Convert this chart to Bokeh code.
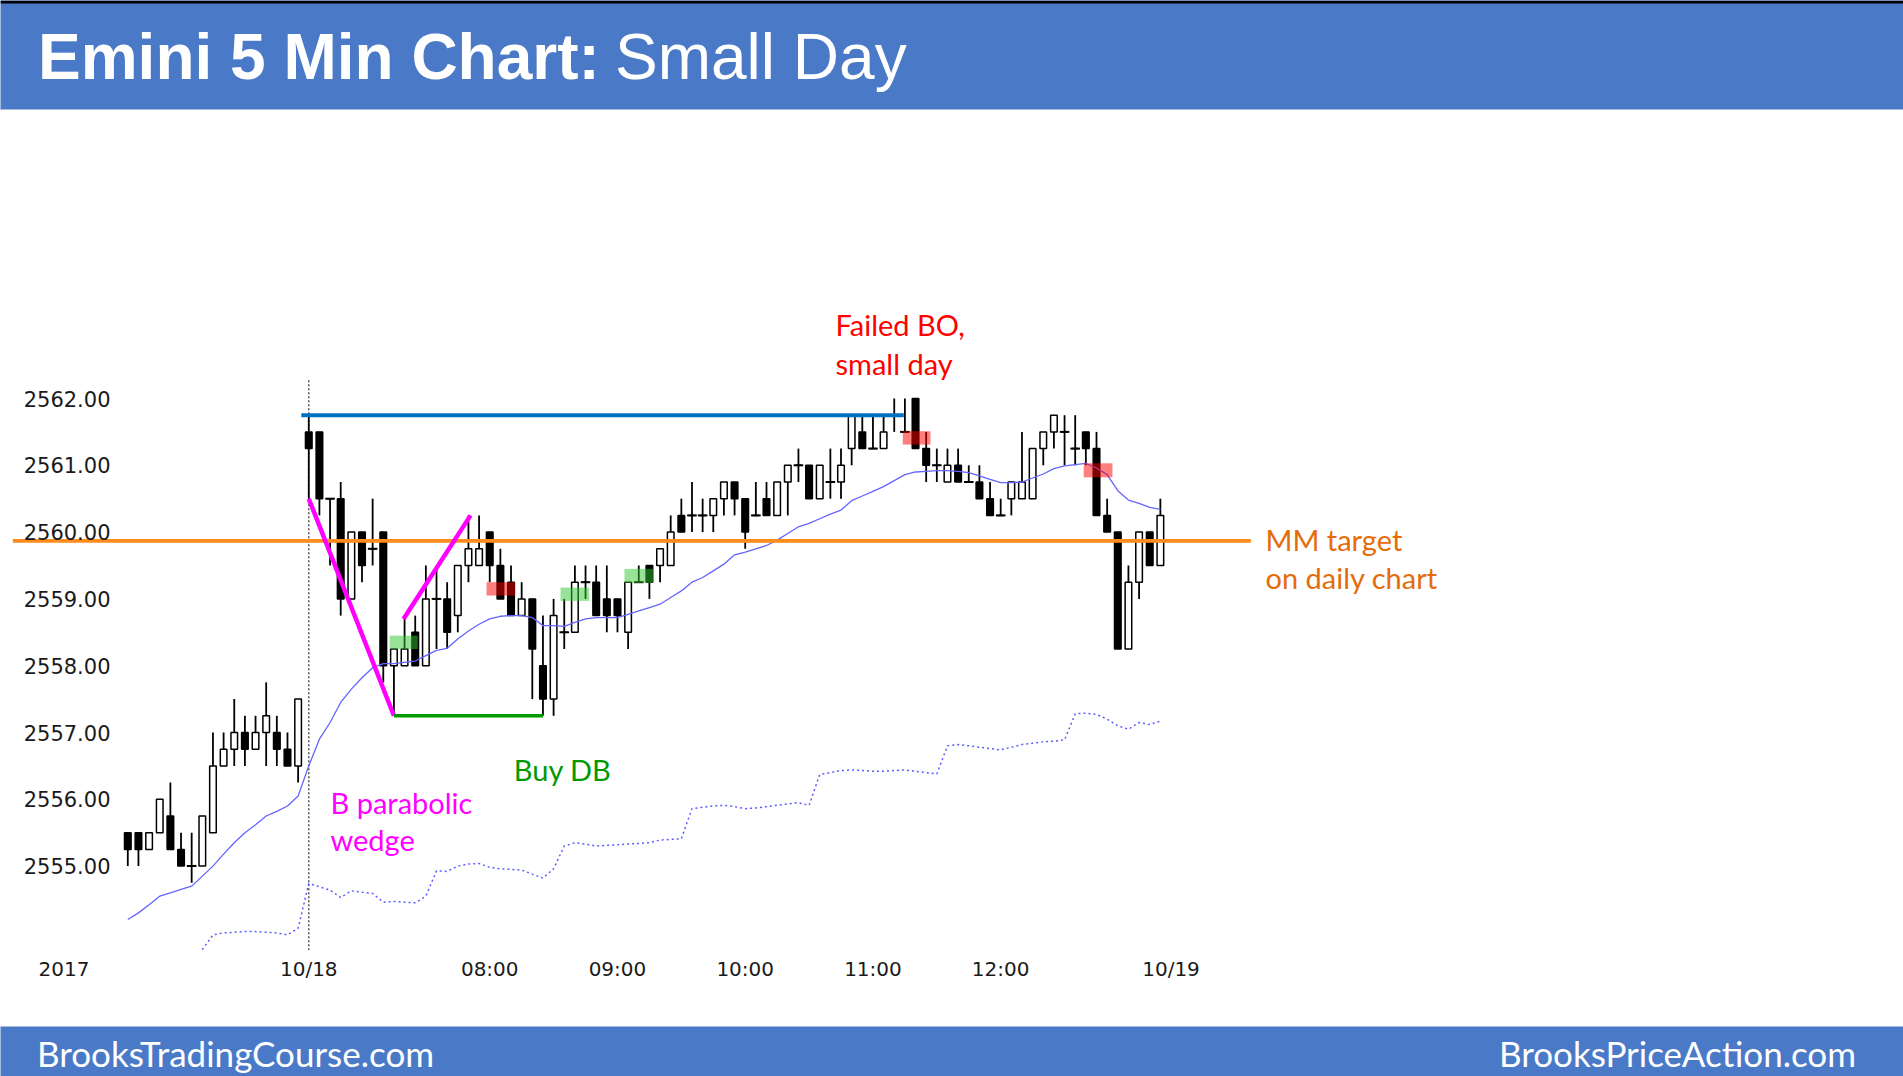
from bokeh.plotting import figure
from bokeh.models import Range1d, FixedTicker, LinearAxis, ColumnDataSource
from bokeh.layouts import column
from bokeh.embed import file_html
from bokeh.resources import INLINE
from bokeh.core.properties import value

# ---------------- data ----------------
# bar index 0..16 = end of 10/17 session, 17..97 = 10/18 session (5-min bars)
opens = [2555.5, 2555.5, 2555.25, 2555.5, 2555.75, 2555.25, 2555.0, 2555.0, 2555.5, 2556.5,
         2556.75, 2557.0, 2556.75, 2557.0, 2557.0, 2556.75, 2556.5,
         2561.5, 2561.5, 2560.5, 2560.5, 2559.0, 2560.0, 2559.75, 2560.0, 2558.0, 2558.0,
         2558.5, 2558.0, 2559.0, 2559.0, 2558.75, 2559.5, 2559.5, 2560.0, 2559.5, 2559.25,
         2558.75, 2559.0, 2558.0, 2557.5, 2558.5, 2558.5, 2559.25, 2559.25, 2559.0, 2559.0,
         2558.5, 2559.25, 2559.5, 2559.5, 2559.5, 2560.25, 2560.25, 2560.25, 2560.25, 2560.5,
         2560.75, 2560.5, 2560.25, 2560.5, 2560.25, 2560.75, 2561.0, 2561.0, 2560.5, 2560.75,
         2560.75, 2561.25, 2561.5, 2561.25, 2561.25, 2561.75, 2561.5, 2562.0, 2561.25, 2561.0,
         2560.75, 2561.0, 2560.75, 2560.75, 2560.5, 2560.25, 2560.5, 2560.5, 2560.5, 2561.25,
         2561.5, 2561.5, 2561.25, 2561.5, 2561.25, 2560.25, 2560.0, 2558.25, 2559.25, 2560.0, 2559.5]
highs = [2555.5, 2555.5, 2555.5, 2556.0, 2556.25, 2555.5, 2555.5, 2555.75, 2557.0, 2557.0,
         2557.5, 2557.25, 2557.25, 2557.75, 2557.25, 2557.0, 2557.5,
         2561.75, 2561.5, 2560.5, 2560.75, 2560.0, 2560.0, 2560.5, 2560.0, 2558.25, 2558.75,
         2558.75, 2559.5, 2559.5, 2559.25, 2559.5, 2560.25, 2560.25, 2560.0, 2559.75, 2559.5,
         2559.25, 2559.0, 2558.75, 2559.0, 2559.0, 2559.5, 2559.5, 2559.5, 2559.5, 2559.0,
         2559.25, 2559.5, 2559.5, 2559.75, 2560.25, 2560.5, 2560.75, 2560.5, 2560.5, 2560.75,
         2560.75, 2560.5, 2560.75, 2560.75, 2560.75, 2561.0, 2561.25, 2561.0, 2561.0, 2561.25,
         2561.25, 2561.75, 2561.75, 2561.75, 2561.75, 2562.0, 2562.0, 2562.0, 2561.5, 2561.25,
         2561.25, 2561.25, 2561.0, 2561.0, 2560.75, 2560.5, 2560.75, 2561.5, 2561.25, 2561.5,
         2561.75, 2561.75, 2561.75, 2561.5, 2561.5, 2560.5, 2560.0, 2559.5, 2560.0, 2560.0, 2560.5]
lows = [2555.0, 2555.0, 2555.25, 2555.5, 2555.25, 2555.0, 2554.75, 2555.0, 2555.5, 2556.5,
        2556.5, 2556.5, 2556.75, 2556.5, 2556.5, 2556.5, 2556.25,
        2560.5, 2560.25, 2559.5, 2558.75, 2559.0, 2559.25, 2559.5, 2557.75, 2557.25, 2558.0,
        2558.0, 2558.0, 2558.25, 2558.25, 2558.5, 2559.25, 2559.5, 2559.25, 2559.0, 2558.75,
        2558.75, 2557.5, 2557.25, 2557.25, 2558.25, 2558.5, 2559.0, 2558.75, 2558.5, 2558.5,
        2558.25, 2559.25, 2559.0, 2559.25, 2559.5, 2560.0, 2560.0, 2560.0, 2560.0, 2560.25,
        2560.25, 2559.75, 2560.25, 2560.25, 2560.25, 2560.25, 2560.75, 2560.5, 2560.5, 2560.5,
        2560.5, 2561.0, 2561.25, 2561.25, 2561.25, 2561.5, 2561.5, 2561.25, 2560.75, 2560.75,
        2560.75, 2560.75, 2560.75, 2560.5, 2560.25, 2560.25, 2560.25, 2560.5, 2560.5, 2561.0,
        2561.25, 2561.0, 2561.0, 2561.0, 2560.25, 2560.0, 2558.25, 2558.25, 2559.0, 2559.5, 2559.5]
closes = [2555.25, 2555.25, 2555.5, 2556.0, 2555.25, 2555.0, 2555.0, 2555.75, 2556.5, 2556.75,
          2557.0, 2556.75, 2557.0, 2557.25, 2556.75, 2556.5, 2557.5,
          2561.25, 2560.5, 2560.5, 2559.0, 2560.0, 2559.5, 2559.75, 2558.0, 2558.25, 2558.25,
          2558.0, 2559.0, 2559.0, 2558.5, 2559.5, 2559.75, 2559.75, 2559.5, 2559.0, 2558.75,
          2559.0, 2558.25, 2557.5, 2558.75, 2558.5, 2559.25, 2559.25, 2558.75, 2558.75, 2558.75,
          2559.25, 2559.25, 2559.25, 2559.75, 2560.0, 2560.0, 2560.25, 2560.25, 2560.5, 2560.75,
          2560.5, 2560.0, 2560.25, 2560.25, 2560.75, 2561.0, 2561.0, 2560.5, 2561.0, 2560.75,
          2561.0, 2561.75, 2561.25, 2561.25, 2561.5, 2561.75, 2561.5, 2561.25, 2561.0, 2561.0,
          2561.0, 2560.75, 2560.75, 2560.5, 2560.25, 2560.25, 2560.75, 2560.75, 2561.25, 2561.5,
          2561.75, 2561.5, 2561.25, 2561.25, 2560.25, 2560.0, 2558.25, 2559.25, 2560.0, 2559.5, 2560.25]
bar_index = list(range(len(opens)))

# 20-bar EMA as drawn on the chart
ema20 = [2554.2, 2554.3, 2554.42, 2554.55, 2554.6, 2554.65, 2554.7, 2554.85, 2555.0, 2555.18,
         2555.35, 2555.5, 2555.62, 2555.75, 2555.82, 2555.9, 2556.05,
         2556.5, 2556.9, 2557.15, 2557.45, 2557.65, 2557.82, 2557.97, 2558.03, 2558.03, 2558.05,
         2558.07, 2558.15, 2558.23, 2558.26, 2558.4, 2558.52, 2558.62, 2558.7, 2558.74, 2558.75,
         2558.75, 2558.72, 2558.6, 2558.6, 2558.59, 2558.65, 2558.7, 2558.72, 2558.72, 2558.72,
         2558.77, 2558.82, 2558.87, 2558.92, 2559.02, 2559.12, 2559.25, 2559.32, 2559.42, 2559.52,
         2559.66, 2559.7, 2559.75, 2559.8, 2559.88, 2559.98, 2560.08, 2560.13, 2560.2, 2560.27,
         2560.33, 2560.47, 2560.54, 2560.61, 2560.68, 2560.77, 2560.86, 2560.9, 2560.91, 2560.92,
         2560.92, 2560.91, 2560.89, 2560.84, 2560.79, 2560.74, 2560.74, 2560.75, 2560.81, 2560.87,
         2560.95, 2560.99, 2561.01, 2561.03, 2560.96, 2560.86, 2560.62, 2560.48, 2560.43, 2560.37, 2560.34]

# dotted indicator, starting at bar 7
dotted_first_bar = 7
dotted_vals = [2553.75, 2553.97, 2554.0, 2554.01, 2554.02, 2554.02, 2554.01, 2554.0, 2553.97, 2554.07,
               2554.74, 2554.69, 2554.64, 2554.53, 2554.63, 2554.61, 2554.59, 2554.46, 2554.47, 2554.46,
               2554.45, 2554.55, 2554.93, 2554.92, 2555.0, 2555.03, 2555.04, 2554.98, 2554.96, 2554.95,
               2554.94, 2554.88, 2554.82, 2554.96, 2555.3, 2555.35, 2555.33, 2555.3, 2555.31, 2555.32,
               2555.33, 2555.34, 2555.35, 2555.39, 2555.4, 2555.41, 2555.86, 2555.88, 2555.9, 2555.91,
               2555.89, 2555.86, 2555.87, 2555.89, 2555.91, 2555.93, 2555.95, 2555.91, 2556.37, 2556.4,
               2556.43, 2556.44, 2556.43, 2556.42, 2556.42, 2556.43, 2556.44, 2556.42, 2556.4, 2556.38,
               2556.8, 2556.82, 2556.8, 2556.78, 2556.76, 2556.74, 2556.78, 2556.82, 2556.84, 2556.86,
               2556.87, 2556.89, 2557.28, 2557.29, 2557.27, 2557.2, 2557.1, 2557.05, 2557.15, 2557.12, 2557.17]
dotted_x = list(range(dotted_first_bar, dotted_first_bar + len(dotted_vals)))

# signal-bar highlight boxes
sig_x0 = [24.6, 33.7, 40.65, 46.66, 72.8, 89.8]
sig_x1 = [27.24, 36.4, 43.35, 49.4, 75.4, 92.5]
sig_lo = [2558.25, 2559.05, 2558.97, 2559.24, 2561.31, 2560.82]
sig_hi = [2558.45, 2559.25, 2559.17, 2559.45, 2561.51, 2561.03]
sig_kind = ["buy", "sell", "buy", "buy", "sell", "sell"]

# drawn annotation lines
mm_target = 2559.87
mm_x = [-10.8, 105.5]
day_high = 2561.75
day_high_x = [16.3, 72.9]
wedge_leg1_x = [17, 25]
wedge_leg1_y = [2560.5, 2557.25]
wedge_leg2_x = [25.9, 32.2]
wedge_leg2_y = [2558.7, 2560.25]
db_low = 2557.25
db_x = [25, 39]
session_bar = 17
session_line_y = [2553.5, 2562.29]

# axis ticks
xtick_pos = [-6, 17, 34, 46, 58, 70, 82, 98]
xtick_labels = ["2017", "10/18", "08:00", "09:00", "10:00", "11:00", "12:00", "10/19"]
ytick_vals = [2555, 2556, 2557, 2558, 2559, 2560, 2561, 2562]
ytick_labels = ["2555.00", "2556.00", "2557.00", "2558.00", "2559.00", "2560.00", "2561.00", "2562.00"]

# annotation texts (x = bar index, y = price at text middle)
notes = [
    ("Failed BO,", 66.48, 2563.111, "#FF0000"),
    ("small day", 66.48, 2562.527, "#FF0000"),
    ("MM target", 106.88, 2559.882, "#E46C0A"),
    ("on daily chart", 106.88, 2559.319, "#E46C0A"),
    ("B parabolic", 19.04, 2555.951, "#FF00FF"),
    ("wedge", 19.04, 2555.401, "#FF00FF"),
    ("Buy DB", 36.26, 2556.449, "#009900"),
]

# ---------------- layout constants ----------------
W = 1903
BLUE = "#4A7AC7"
PX_PER_BAR = 10.645
BAR0_PX = 127.3          # page x of bar 0
PX_PER_PT = 66.8
P2562_PX = 398.0         # page y of 2562.00
HDR_H, MAIN_H, FTR_H = 110, 916, 50
FRAME_BOTTOM = 950

x_start = (0 - BAR0_PX) / PX_PER_BAR
x_end = (W - BAR0_PX) / PX_PER_BAR
y_start = 2562 - (FRAME_BOTTOM - P2562_PX) / PX_PER_PT
y_end = 2562 + (P2562_PX - HDR_H) / PX_PER_PT

# ---------------- header ----------------
hdr = figure(width=W, height=HDR_H, x_range=Range1d(0, W), y_range=Range1d(HDR_H, 0),
             toolbar_location=None, output_backend="svg", min_border=0,
             x_axis_location=None, y_axis_location=None,
             background_fill_color=BLUE, border_fill_color=BLUE, outline_line_color=None)
hdr.grid.visible = False
hdr.quad(left=[0], right=[W], top=[0], bottom=[3], fill_color="black", line_color=None)
hdr.quad(left=[0], right=[W], top=[109], bottom=[HDR_H], fill_color="white", line_color=None)
hdr.text(x=[37.5], y=[56], text=["Emini 5 Min Chart:"], text_font=value("Liberation Sans"),
         text_font_style="bold", text_font_size="64px", text_color="white", text_baseline="middle")
hdr.text(x=[614.5], y=[56], text=["Small Day"], text_font=value("Liberation Sans"),
         text_font_size="64px", text_color="white", text_baseline="middle")

# ---------------- main chart ----------------
p = figure(width=W, height=MAIN_H, x_range=Range1d(x_start, x_end), y_range=Range1d(y_start, y_end),
           toolbar_location=None, output_backend="svg",
           min_border_left=0, min_border_right=0, min_border_top=0,
           min_border_bottom=HDR_H + MAIN_H - FRAME_BOTTOM,
           x_axis_location=None, y_axis_location=None,
           background_fill_color="white", border_fill_color="white", outline_line_color=None)
p.grid.visible = False

xaxis = LinearAxis(ticker=FixedTicker(ticks=xtick_pos),
                   major_label_overrides=dict(zip(xtick_pos, xtick_labels)))
xaxis.axis_line_color = None
xaxis.major_tick_line_color = None
xaxis.minor_tick_line_color = None
xaxis.major_label_text_font = "DejaVu Sans"
xaxis.major_label_text_font_size = "20px"
xaxis.major_label_text_color = "#1a1a1a"
xaxis.major_label_standoff = 0
p.add_layout(xaxis, "below")

yaxis = LinearAxis(ticker=FixedTicker(ticks=ytick_vals),
                   major_label_overrides=dict(zip(ytick_vals, ytick_labels)),
                   fixed_location=(118.0 - BAR0_PX) / PX_PER_BAR)
yaxis.axis_line_color = None
yaxis.major_tick_line_color = None
yaxis.minor_tick_line_color = None
yaxis.major_label_text_font = "DejaVu Sans"
yaxis.major_label_text_font_size = "21px"
yaxis.major_label_text_color = "#1a1a1a"
yaxis.major_label_standoff = 2
p.add_layout(yaxis, "left")

# session divider
p.line(x=[session_bar, session_bar], y=session_line_y, line_color="#555555",
       line_width=1.5, line_dash="2 2")

# dotted indicator
p.line(x=dotted_x, y=dotted_vals, line_color="#5C5CFF", line_width=1.5, line_dash="2 3")

# candles
body_top = [max(o, c) for o, c in zip(opens, closes)]
body_bot = [min(o, c) for o, c in zip(opens, closes)]
fills = ["white" if c > o else "black" for o, c in zip(opens, closes)]
src = ColumnDataSource(dict(x=bar_index, h=highs, l=lows, top=body_top, bot=body_bot, fill=fills))
p.segment(x0="x", y0="l", x1="x", y1="h", line_color="black", line_width=1.8, source=src)
p.vbar(x="x", width=0.62, top="top", bottom="bot", fill_color="fill", line_color="black",
       line_width=1.5, source=src)
doji_x = [i for i, o, c in zip(bar_index, opens, closes) if o == c]
doji_y = [o for o, c in zip(opens, closes) if o == c]
p.segment(x0=[x - 0.45 for x in doji_x], x1=[x + 0.45 for x in doji_x], y0=doji_y, y1=doji_y,
          line_color="black", line_width=2)

# EMA
p.line(x=bar_index, y=ema20, line_color="#6464FF", line_width=1.3)

# signal boxes
sig_colors = ["#32C832" if k == "buy" else "#FF0000" for k in sig_kind]
p.quad(left=sig_x0, right=sig_x1, bottom=sig_lo, top=sig_hi, fill_color=sig_colors,
       fill_alpha=0.5, line_color=None)

# annotation lines
p.line(x=mm_x, y=[mm_target, mm_target], line_color="#FF8C1A", line_width=3.8)
p.line(x=day_high_x, y=[day_high, day_high], line_color="#0070C0", line_width=4)
p.line(x=wedge_leg1_x, y=wedge_leg1_y, line_color="#FF00FF", line_width=4.5)
p.line(x=wedge_leg2_x, y=wedge_leg2_y, line_color="#FF00FF", line_width=4.5)
p.line(x=db_x, y=[db_low, db_low], line_color="#009900", line_width=3.5)

# annotation texts
p.text(x=[n[1] for n in notes], y=[n[2] for n in notes], text=[n[0] for n in notes],
       text_color=[n[3] for n in notes], text_font=value("Lato"), text_font_size="29px",
       text_baseline="middle", text_align="left")

# ---------------- footer ----------------
ftr = figure(width=W, height=FTR_H, x_range=Range1d(0, W), y_range=Range1d(FTR_H, 0),
             toolbar_location=None, output_backend="svg", min_border=0,
             x_axis_location=None, y_axis_location=None,
             background_fill_color=BLUE, border_fill_color=BLUE, outline_line_color=None)
ftr.grid.visible = False
ftr.text(x=[36.5], y=[26.5], text=["BrooksTradingCourse.com"], text_font=value("Lato"),
         text_font_size="35px", text_color="white", text_baseline="middle")
ftr.text(x=[1855.5], y=[26.5], text=["BrooksPriceAction.com"], text_font=value("Lato"),
         text_font_size="35px", text_color="white", text_baseline="middle", text_align="right")

layout = column(hdr, p, ftr, spacing=0)
open("out.html", "w").write(file_html(layout, INLINE))
